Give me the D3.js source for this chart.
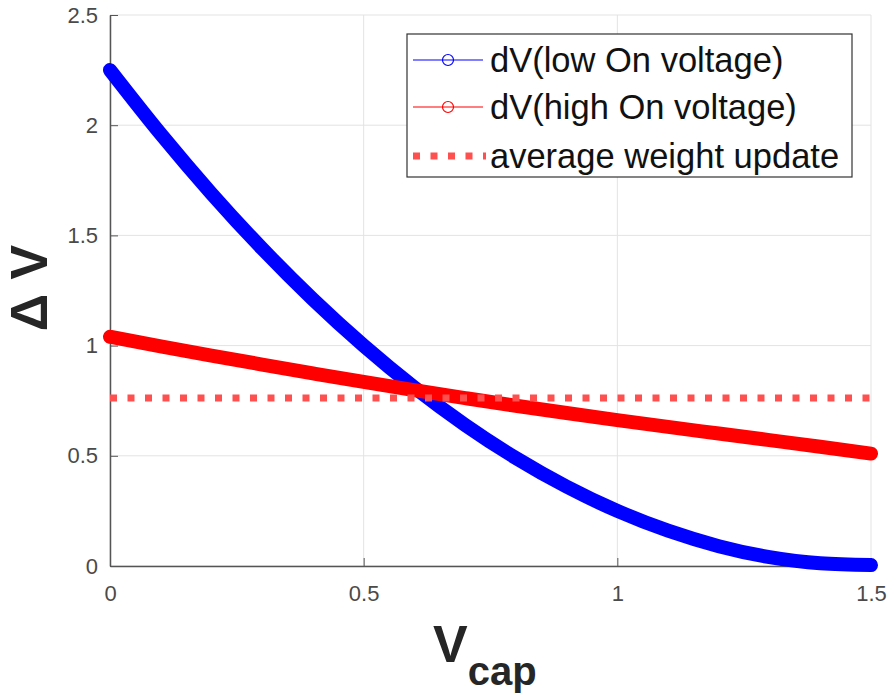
<!doctype html>
<html>
<head>
<meta charset="utf-8">
<title>dV vs Vcap</title>
<script src="https://cdn.jsdelivr.net/npm/d3@7"></script>
<style>
  body { margin: 0; background: #fff; }
  svg { display: block; font-family: "Liberation Sans", Arial, Helvetica, sans-serif; }
  .grid line { stroke: #e3e3e3; stroke-width: 1; }
  .axis path, .axis line { stroke: #555; }
  .axis text { fill: #4a4a4a; font-size: 22px; }
  .legend text { font-size: 34.5px; fill: #111; }
</style>
</head>
<body>
<svg id="chart" width="892" height="697"></svg>
<script>
  // data
  var vcap = [0, 0.1, 0.2, 0.3, 0.4, 0.5, 0.6, 0.7, 0.8, 0.9, 1.0, 1.1, 1.2, 1.3, 1.4, 1.5];
  var dvLow = [2.25, 1.96, 1.69, 1.44, 1.21, 1.0, 0.81, 0.64, 0.49, 0.36, 0.25, 0.16, 0.09, 0.04, 0.012, 0.004];
  var dvHigh = [1.04, 0.997, 0.955, 0.914, 0.874, 0.835, 0.798, 0.762, 0.727, 0.694, 0.662, 0.631, 0.601, 0.571, 0.541, 0.51];
  var avgUpdate = 0.762;
  var xTicks = [0, 0.5, 1, 1.5];
  var yTicks = [0, 0.5, 1, 1.5, 2, 2.5];
  var legendLabels = ["dV(low On voltage)", "dV(high On voltage)", "average weight update"];

  var svg = d3.select("#chart"),
      margin = {top: 15, right: 21, bottom: 131, left: 110},
      width = +svg.attr("width") - margin.left - margin.right,
      height = +svg.attr("height") - margin.top - margin.bottom,
      g = svg.append("g").attr("transform", "translate(" + margin.left + "," + margin.top + ")");

  var x = d3.scaleLinear().domain([0, 1.5]).range([0, width]);
  var y = d3.scaleLinear().domain([0, 2.5]).range([height, 0]);

  // grid
  g.append("g").attr("class", "grid")
    .selectAll("line.v").data(xTicks).enter().append("line")
      .attr("x1", function(d) { return x(d); }).attr("x2", function(d) { return x(d); })
      .attr("y1", 0).attr("y2", height);
  g.append("g").attr("class", "grid")
    .selectAll("line.h").data(yTicks).enter().append("line")
      .attr("x1", 0).attr("x2", width)
      .attr("y1", function(d) { return y(d); }).attr("y2", function(d) { return y(d); });

  // axes (ticks point inward, no box)
  var xAxis = g.append("g").attr("class", "axis")
    .attr("transform", "translate(0," + height + ")")
    .call(d3.axisBottom(x).tickValues(xTicks).tickFormat(d3.format("")).tickSizeInner(-8).tickSizeOuter(0).tickPadding(19));
  var yAxis = g.append("g").attr("class", "axis")
    .call(d3.axisLeft(y).tickValues(yTicks).tickFormat(d3.format("")).tickSizeInner(-8).tickSizeOuter(0).tickPadding(12));
  xAxis.select(".domain").attr("stroke-width", 1.5);
  yAxis.select(".domain").attr("stroke-width", 1.5);
  xAxis.selectAll("text").attr("font-family", null);
  yAxis.selectAll("text").attr("font-family", null);

  var line = d3.line()
    .x(function(d) { return x(d[0]); })
    .y(function(d) { return y(d[1]); })
    .curve(d3.curveMonotoneX);

  g.append("path")
    .datum(d3.zip(vcap, dvLow))
    .attr("d", line)
    .attr("fill", "none").attr("stroke", "#0000ff")
    .attr("stroke-width", 14).attr("stroke-linecap", "round").attr("stroke-linejoin", "round");

  g.append("path")
    .datum(d3.zip(vcap, dvHigh))
    .attr("d", line)
    .attr("fill", "none").attr("stroke", "#ff0000")
    .attr("stroke-width", 14).attr("stroke-linecap", "round").attr("stroke-linejoin", "round");

  g.append("line")
    .attr("x1", x(0)).attr("x2", x(1.5))
    .attr("y1", y(avgUpdate)).attr("y2", y(avgUpdate))
    .attr("stroke", "#ff5050").attr("stroke-width", 7)
    .attr("stroke-dasharray", "7,10.5");

  // axis labels
  svg.append("text")
    .attr("transform", "translate(47,288) rotate(-90)")
    .attr("text-anchor", "middle")
    .attr("font-size", 52).attr("font-weight", "bold").attr("fill", "#262626")
    .text("\u0394 V");

  var xl = svg.append("text")
    .attr("x", 433).attr("y", 662)
    .attr("font-weight", "bold").attr("fill", "#262626");
  xl.append("tspan").attr("font-size", 52).text("V");
  xl.append("tspan").attr("font-size", 40).attr("dy", 23).text("cap");

  // legend
  var legend = svg.append("g").attr("class", "legend");
  legend.append("rect")
    .attr("x", 407).attr("y", 34).attr("width", 445).attr("height", 143)
    .attr("fill", "#fff").attr("stroke", "#333").attr("stroke-width", 1.2);

  var rowY = [60, 107, 156];
  var legendColors = ["#0000ff", "#ff0000", "#ff5050"];
  legendLabels.forEach(function(lbl, i) {
    var ly = rowY[i];
    if (i < 2) {
      legend.append("line").attr("x1", 413).attr("x2", 483).attr("y1", ly).attr("y2", ly)
        .attr("stroke", legendColors[i]).attr("stroke-width", 1.2);
      legend.append("circle").attr("cx", 448).attr("cy", ly).attr("r", 5.5)
        .attr("fill", "none").attr("stroke", legendColors[i]).attr("stroke-width", 1.2);
    } else {
      legend.append("line").attr("x1", 413).attr("x2", 486).attr("y1", ly).attr("y2", ly)
        .attr("stroke", legendColors[i]).attr("stroke-width", 7).attr("stroke-dasharray", "7,10.5");
    }
    legend.append("text").attr("x", 490).attr("y", ly + 12).text(lbl);
  });
</script>
</body>
</html>
